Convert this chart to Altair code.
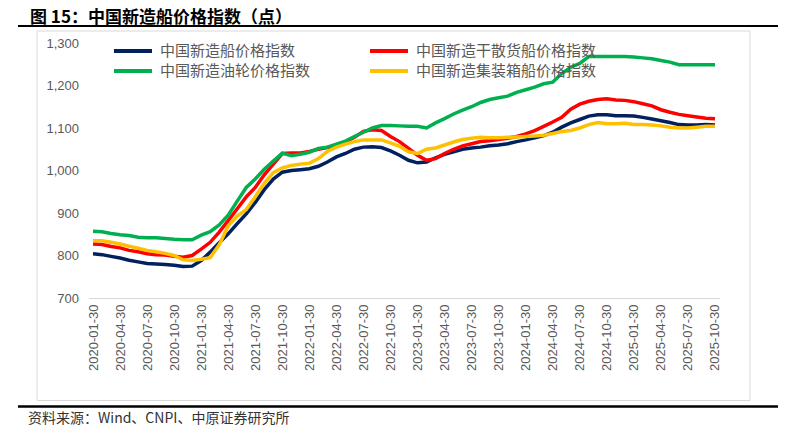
import altair as alt
import pandas as pd

# ---- data -------------------------------------------------------------
months = [f"{y}-{m:02d}" for y in range(2020, 2026) for m in range(1, 13)][:70]
tick_months = months[::3]

series_names = [
    "中国新造船价格指数",
    "中国新造干散货船价格指数",
    "中国新造油轮价格指数",
    "中国新造集装箱船价格指数",
]
colors = ["#002060", "#FF0000", "#00B050", "#FFC000"]

cnpi_total = [
    804, 802, 798, 794, 789, 785, 781, 780, 779, 777, 774, 775,
    788, 808, 830, 851, 875, 898, 925, 955, 980, 996, 1000, 1002,
    1004, 1010, 1020, 1032, 1040, 1050, 1055, 1056, 1054, 1046, 1036, 1024,
    1018, 1020, 1030, 1038, 1044, 1050, 1053, 1055, 1058, 1060, 1063, 1068,
    1072, 1077, 1082, 1090, 1102, 1112, 1120, 1128, 1131, 1131, 1129, 1129,
    1128, 1125, 1121, 1117, 1113, 1108, 1107, 1107, 1108, 1107,
]
cnpi_bulk = [
    827, 826, 821, 818, 812, 809, 804, 802, 801, 798, 796, 800,
    815, 831, 855, 882, 910, 938, 960, 990, 1015, 1040, 1041, 1041,
    1045, 1050, 1054, 1058, 1067, 1078, 1092, 1096, 1094, 1080, 1068, 1052,
    1036, 1024, 1028, 1040, 1050, 1058, 1063, 1068, 1070, 1073, 1076, 1080,
    1086, 1094, 1104, 1114, 1125, 1144, 1156, 1163, 1167, 1169, 1166, 1165,
    1162, 1157, 1152, 1143, 1137, 1132, 1129, 1126, 1123, 1122,
]
cnpi_tanker = [
    857, 856, 852, 849, 847, 843, 842, 842, 840, 838, 837, 837,
    848, 856, 872, 895, 928, 960, 980, 1003, 1022, 1041, 1035, 1038,
    1043, 1052, 1055, 1062, 1069, 1080, 1090, 1100, 1106, 1106, 1105, 1104,
    1104, 1100, 1112, 1122, 1133, 1142, 1150, 1160, 1167, 1171, 1175, 1184,
    1190, 1196, 1204, 1208, 1228, 1243, 1252, 1268, 1268, 1268, 1268, 1268,
    1267, 1265, 1263, 1259, 1255, 1249, 1249, 1249, 1249, 1249,
]
cnpi_container = [
    835, 835, 831, 827, 822, 817, 812, 809, 805, 800, 790, 788,
    791, 795, 825, 870, 893, 908, 938, 970, 995, 1006, 1012, 1015,
    1017, 1028, 1045, 1055, 1062, 1068, 1072, 1072, 1072, 1065, 1057, 1044,
    1040, 1050, 1053, 1060, 1067, 1073, 1076, 1078, 1077, 1077, 1078, 1079,
    1080, 1081, 1083, 1087, 1092, 1094, 1100, 1108, 1113, 1110, 1110, 1111,
    1108, 1108, 1107, 1105, 1102, 1100, 1100, 1102, 1104, 1104,
]
y_ticks = [700, 800, 900, 1000, 1100, 1200, 1300]

title_text = "图 15：中国新造船价格指数（点）"
source_text = "资料来源：Wind、CNPI、中原证券研究所"

# ---- table -------------------------------------------------------------
rows = []
for name, vals in zip(series_names, [cnpi_total, cnpi_bulk, cnpi_tanker, cnpi_container]):
    for m, v in zip(months, vals):
        rows.append({"month": m, "series": name, "value": v})
df = pd.DataFrame(rows)
one = pd.DataFrame({"k": [0]})

CJK = "Noto Sans CJK SC"
LAT = "Liberation Sans"

lines = alt.Chart(df).mark_line(strokeWidth=3.5).encode(
    x=alt.X(
        "month:O",
        sort=months,
        scale=alt.Scale(type="point", padding=0.5),
        axis=alt.Axis(
            values=tick_months,
            labelExpr="datum.value + '-30'",
            labelAngle=-90,
            labelFont=LAT,
            labelFontSize=13,
            labelColor="#595959",
            labelPadding=6,
            ticks=False,
            grid=False,
            domainColor="#d9d9d9",
            domainWidth=1,
            title=None,
        ),
    ),
    y=alt.Y(
        "value:Q",
        scale=alt.Scale(domain=[700, 1300], nice=False, zero=False),
        axis=alt.Axis(
            values=y_ticks,
            format=",.0f",
            labelFont=LAT,
            labelFontSize=13,
            labelColor="#595959",
            labelPadding=10,
            ticks=False,
            grid=False,
            domain=False,
            title=None,
        ),
    ),
    color=alt.Color(
        "series:N",
        sort=series_names,
        scale=alt.Scale(domain=series_names, range=colors),
        legend=alt.Legend(
            title=None,
            orient="none",
            direction="horizontal",
            legendX=23.5,
            legendY=0,
            columns=2,
            symbolType="stroke",
            symbolSize=1444,
            symbolStrokeWidth=4,
            clipHeight=16,
            labelFont=CJK,
            labelFontSize=15,
            labelColor="#595959",
            labelLimit=400,
            labelOffset=6,
            columnPadding=57,
            rowPadding=4,
        ),
    ),
)

border = alt.Chart(one).mark_rect(fillOpacity=0, stroke="#d9d9d9", strokeWidth=1).encode(
    x=alt.value(-51.5), x2=alt.value(661.5), y=alt.value(-12), y2=alt.value(357.5)
)
top_rule = alt.Chart(one).mark_rule(color="black", strokeWidth=2).encode(
    x=alt.value(-70.5), x2=alt.value(689.5), y=alt.value(-17)
)
bottom_rule = alt.Chart(one).mark_rule(color="black", strokeWidth=2.5).encode(
    x=alt.value(-70.5), x2=alt.value(689.5), y=alt.value(363.5)
)
title = alt.Chart(one).mark_text(
    align="left", baseline="alphabetic", font=CJK, fontSize=17, fontWeight="bold", color="black"
).encode(x=alt.value(-58.5), y=alt.value(-20), text=alt.value(title_text))
source = alt.Chart(one).mark_text(
    align="left", baseline="middle", font=CJK, fontSize=14, color="#333333"
).encode(x=alt.value(-60.5), y=alt.value(376), text=alt.value(source_text))

chart = alt.layer(border, top_rule, bottom_rule, title, source, lines).properties(
    width=631,
    height=255,
    autosize=alt.AutoSizeParams(type="none"),
    padding={"left": 80.5, "top": 35, "right": 58.5, "bottom": 128},
    background="white",
).configure_view(stroke=None)

chart.save("out.html", embed_options={"renderer": "svg", "actions": False})
